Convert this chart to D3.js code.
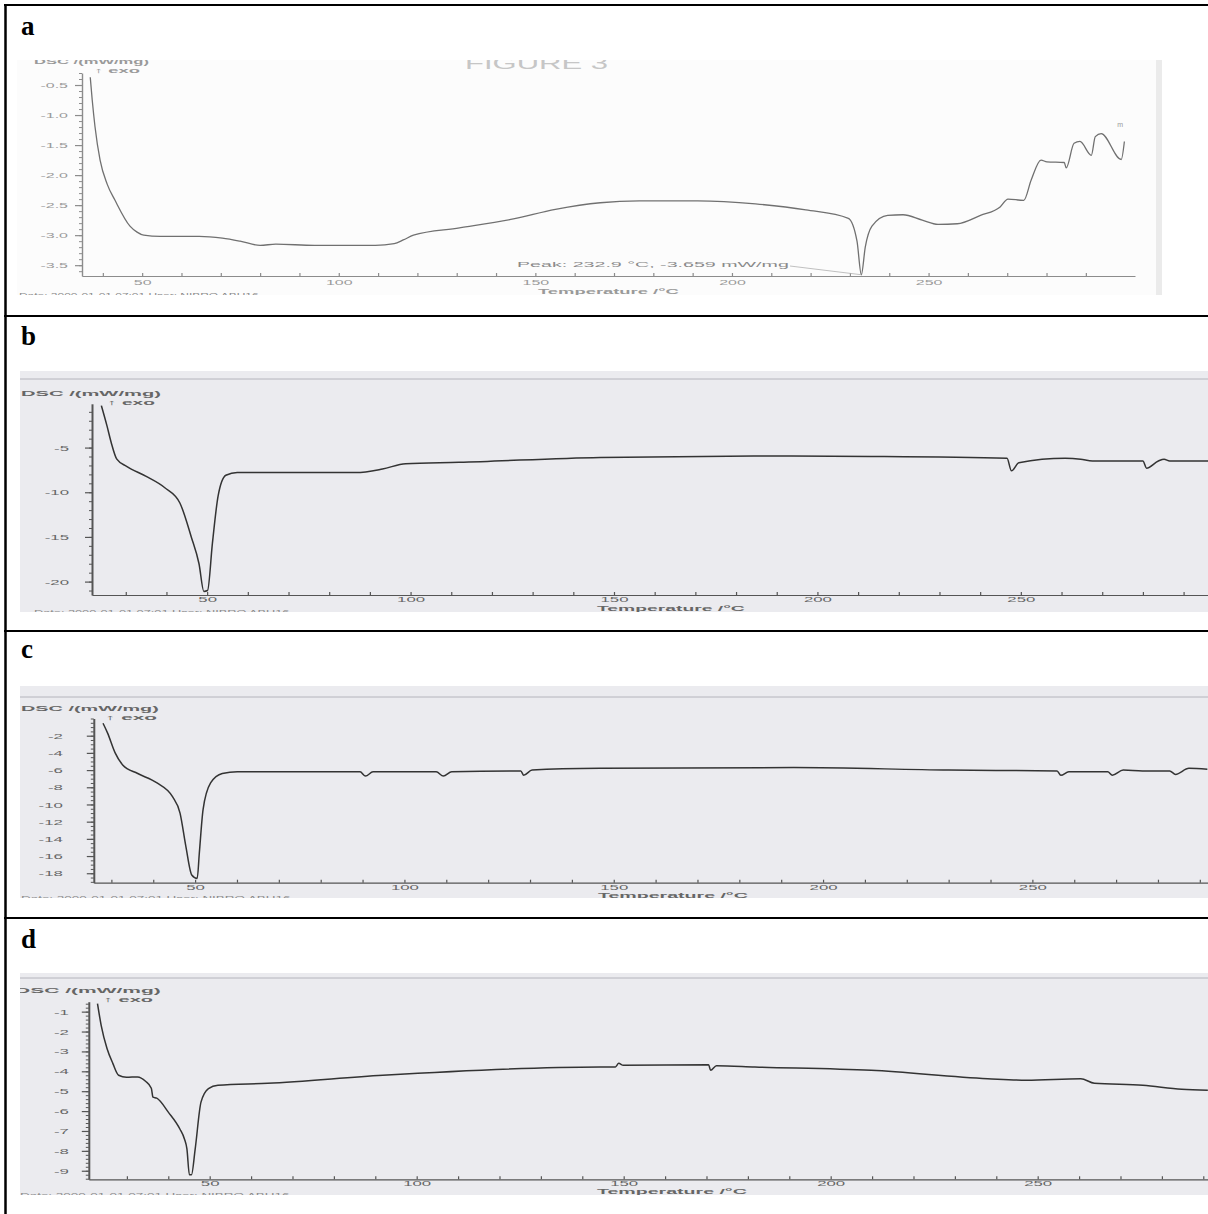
<!DOCTYPE html>
<html>
<head>
<meta charset="utf-8">
<script src="https://cdn.jsdelivr.net/npm/d3@7/dist/d3.min.js"></script>
<style>
  body { margin: 0; background: #fff; }
</style>
</head>
<body>
<div id="fig"></div>
<script>
// ---- datos (temperatura en °C, DSC en mW/mg) ----
const tempA = [36.8, 37.3, 38.0, 39.3, 41.1, 43.1, 46.9, 48.7, 50.4, 54.6, 64.5, 70.4, 74.9, 80.0, 84.0, 93.8,
  109.3, 114.1, 116.4, 119.0, 130.7, 144.4, 155.1, 166.5, 176.5, 191.2, 206.0, 218.8, 229.6, 231.8, 232.9,
  233.9, 235.6, 239.6, 243.5, 248.4, 252.4, 257.3, 263.2, 268.2, 270.2, 274.2, 276.1, 278.6, 280.1, 284.5,
  285.0, 287.0, 288.5, 291.4, 292.4, 293.9, 299.0, 299.8];
const dscA = [-0.37, -0.75, -1.19, -1.75, -2.15, -2.42, -2.85, -2.95, -3.0, -3.02, -3.02, -3.05, -3.1, -3.17, -3.15, -3.17,
  -3.17, -3.14, -3.08, -3.0, -2.88, -2.73, -2.57, -2.46, -2.43, -2.43, -2.48, -2.58, -2.72, -3.1, -3.659,
  -3.2, -2.85, -2.67, -2.66, -2.75, -2.82, -2.81, -2.67, -2.53, -2.40, -2.42, -2.08, -1.75, -1.78, -1.79,
  -1.88, -1.47, -1.44, -1.67, -1.36, -1.31, -1.74, -1.44];

const tempB = [24.0, 25.4, 26.4, 27.8, 30.2, 34.9, 39.6, 43.3, 46.1, 48.0, 49.2, 50.1, 51.3, 52.7, 54.6, 57.4,
  83.7, 86.6, 93.1, 98.8, 111.9, 146.6, 184.6, 213.2, 246.6, 247.7, 249.5, 260.9, 264.7, 267.6, 280.0,
  280.9, 283.8, 285.2, 286.6, 296.0];
const dscB = [-0.3, -2.6, -4.4, -6.3, -7.1, -8.2, -9.5, -11.2, -15.0, -18.0, -21.1, -21.0, -15.7, -10.4, -8.1, -7.8,
  -7.8, -7.8, -7.4, -6.8, -6.65, -6.1, -5.95, -6.0, -6.2, -7.6, -6.7, -6.2, -6.3, -6.5, -6.5,
  -7.3, -6.5, -6.3, -6.5, -6.5];

const tempC = [28.0, 29.1, 30.9, 32.7, 36.3, 40.9, 44.6, 46.4, 47.8, 49.2, 50.5, 51.0, 51.9, 53.7, 56.5, 60.1,
  89.4, 90.7, 92.5, 107.6, 109.3, 111.3, 127.8, 128.5, 130.5, 146.7, 193.0, 230.0, 255.9, 256.8, 258.7,
  268.0, 269.1, 271.7, 276.3, 282.8, 284.2, 287.4, 291.8];
const dscC = [-0.55, -1.7, -4.0, -5.4, -6.4, -7.5, -9.1, -11.0, -14.9, -18.2, -18.6, -15.7, -10.6, -7.5, -6.4, -6.2,
  -6.2, -6.7, -6.2, -6.2, -6.7, -6.2, -6.1, -6.6, -6.0, -5.8, -5.7, -6.0, -6.1, -6.6, -6.2,
  -6.2, -6.6, -6.0, -6.1, -6.1, -6.5, -5.8, -5.9];

const tempD = [22.9, 23.8, 25.2, 26.6, 28.0, 29.9, 32.6, 34.5, 35.9, 36.3, 37.2, 40.0, 42.8, 43.9, 44.5, 45.1,
  45.6, 46.5, 47.9, 49.7, 52.0, 64.0, 91.8, 144.3, 148.0, 148.8, 149.9, 170.5, 171.0, 172.4, 181.7,
  209.8, 237.9, 247.3, 260.4, 263.7, 275.4, 284.8, 291.1];
const dscD = [-0.6, -1.7, -2.85, -3.6, -4.2, -4.3, -4.28, -4.5, -4.85, -5.3, -5.35, -6.05, -6.9, -7.4, -7.9, -9.2,
  -9.2, -7.9, -5.55, -4.87, -4.7, -4.6, -4.2, -3.78, -3.78, -3.6, -3.7, -3.67, -3.95, -3.72, -3.78,
  -3.95, -4.37, -4.45, -4.37, -4.6, -4.7, -4.9, -4.95];

// ---- marcas de los ejes ----
const xTicks = [50, 100, 150, 200, 250];
const yTicksA = [-0.5, -1.0, -1.5, -2.0, -2.5, -3.0, -3.5];
const yTicksB = [-5, -10, -15, -20];
const yTicksC = [-2, -4, -6, -8, -10, -12, -14, -16, -18];
const yTicksD = [-1, -2, -3, -4, -5, -6, -7, -8, -9];

// ---- textos ----
const panelLetters = ['a', 'b', 'c', 'd'];
const yTitle = 'DSC /(mW/mg)';
const exoLabel = '\u2191 exo';
const xTitle = 'Temperature /\u00b0C';
const peakLabel = 'Peak: 232.9 \u00b0C, -3.659 mW/mg';
const peakPoint = [232.9, -3.659];
const stampText = 'Date: 2000-01-01 07:01    User: NIBRO ABU16';

// Configuración de cada panel (posiciones en píxeles)
const panels = [
  {
    letter: panelLetters[0], top: 5, letterY: 35, temps: tempA, vals: dscA, yTicks: yTicksA, minorY: 0.1, fmt: d => d.toFixed(1),
    scan: [17, 60, 1143, 235], bg: '#fcfcfc', topLine: null,
    xDom: [34.7, 302.5], xRange: [82, 1135], yDom: [-3.68, -0.3], yRange: [276, 73],
    lineColor: '#707070', lineW: 1.3, axisColor: '#8c8c8c', yAxisW: 1.4, textColor: '#9a9a9a',
    yGap: 14, tickSx: 2.0, xLabY: 285,
    title: [34, 64, 115], exo: [94, 73, 46], xt: [538, 294, 141], stamp: [19, 298, 240]
  },
  {
    letter: panelLetters[1], top: 316, letterY: 345, temps: tempB, vals: dscB, yTicks: yTicksB, minorY: 1, fmt: d => String(d),
    scan: [20, 371, 1188, 241], bg: '#ebebef', topLine: 379,
    xDom: [21.7, 296], xRange: [92, 1208], yDom: [-21.5, -0.1], yRange: [595, 403.8],
    lineColor: '#333', lineW: 1.5, axisColor: '#555', yAxisW: 2, textColor: '#666',
    yGap: 23, tickSx: 2.1, xLabY: 602,
    title: [21, 396, 140], exo: [107, 405, 48], xt: [597, 611, 148], stamp: [34, 615, 256]
  },
  {
    letter: panelLetters[2], top: 631, letterY: 658, temps: tempC, vals: dscC, yTicks: yTicksC, minorY: 0.5, fmt: d => String(d),
    scan: [20, 686, 1188, 212], bg: '#ebebef', topLine: 697,
    xDom: [25.8, 292], xRange: [93.8, 1208.2], yDom: [-19.1, 0], yRange: [882.7, 718.5],
    lineColor: '#333', lineW: 1.5, axisColor: '#555', yAxisW: 2, textColor: '#666',
    yGap: 31, tickSx: 2.1, xLabY: 890,
    title: [21, 711, 138], exo: [105, 720, 52], xt: [598, 898, 150], stamp: [21, 901, 270]
  },
  {
    letter: panelLetters[3], top: 918, letterY: 948, temps: tempD, vals: dscD, yTicks: yTicksD, minorY: 0.2, fmt: d => String(d),
    scan: [20, 973, 1188, 222], bg: '#ebebef', topLine: 978,
    xDom: [20.8, 291.5], xRange: [88.8, 1209.5], yDom: [-9.43, -0.5], yRange: [1179.3, 1001.7],
    lineColor: '#333', lineW: 1.5, axisColor: '#555', yAxisW: 2, textColor: '#666',
    yGap: 20, tickSx: 2.1, xLabY: 1186,
    title: [15, 993, 146], exo: [103, 1002, 50], xt: [597, 1194, 150], stamp: [20, 1198, 270]
  }
];

const W = 1208, H = 1214;
const sans = 'Liberation Sans, Arial, sans-serif';

const svg = d3.select('#fig').append('svg')
  .attr('width', W).attr('height', H)
  .style('display', 'block');

svg.append('rect').attr('width', W).attr('height', H).attr('fill', '#fff');

// Texto ensanchado (la figura escaneada está estirada en horizontal)
function wideText(g, str, x, y, size, width, color, weight) {
  const t = g.append('text')
    .attr('font-family', sans)
    .attr('font-size', size)
    .attr('font-weight', weight || 'normal')
    .attr('fill', color)
    .text(str);
  const len = t.node().getComputedTextLength();
  t.attr('transform', `translate(${x},${y}) scale(${width / len},1)`);
  return t;
}

panels.forEach((p, i) => {
  const g = svg.append('g');
  const [sx, sy, sw, sh] = p.scan;

  // Recorte de la imagen escaneada
  const clipId = 'clip' + i;
  svg.append('clipPath').attr('id', clipId)
    .append('rect').attr('x', sx).attr('y', sy).attr('width', sw).attr('height', sh);

  // Letra del panel
  g.append('text')
    .attr('x', 21).attr('y', p.letterY)
    .attr('font-family', 'Liberation Serif, Times New Roman, serif')
    .attr('font-weight', 'bold')
    .attr('font-size', 27)
    .attr('fill', '#000')
    .text(p.letter);

  const plot = g.append('g').attr('clip-path', `url(#${clipId})`);

  plot.append('rect')
    .attr('x', sx).attr('y', sy).attr('width', sw).attr('height', sh)
    .attr('fill', p.bg);

  if (p.topLine) {
    plot.append('line')
      .attr('x1', sx).attr('x2', sx + sw)
      .attr('y1', p.topLine).attr('y2', p.topLine)
      .attr('stroke', '#b4b4bc').attr('stroke-width', 1);
  }
  if (i === 0) {
    // banda vertical tenue a la derecha del escaneo
    g.append('rect').attr('x', 1156).attr('y', sy).attr('width', 6).attr('height', sh).attr('fill', '#ebebeb');
    wideText(plot, 'FIGURE 3', 465, 69, 17, 143, '#c6c6c6');
  }

  // Escalas
  const x = d3.scaleLinear().domain(p.xDom).range(p.xRange);
  const y = d3.scaleLinear().domain(p.yDom).range(p.yRange);
  const yBase = p.yRange[0];
  const xLeft = p.xRange[0];

  // Eje X: marcas menores cada 10 °C
  const minorX = d3.range(30, 300, 10).filter(t => t >= p.xDom[0] && t <= p.xDom[1]);
  const xAxisG = plot.append('g')
    .attr('transform', `translate(0,${yBase})`)
    .call(d3.axisBottom(x).tickValues(minorX).tickSize(-3).tickSizeOuter(0).tickFormat(''));
  xAxisG.select('.domain').attr('stroke', p.axisColor).attr('stroke-width', 1.2);
  xAxisG.selectAll('.tick line').attr('stroke', p.axisColor).attr('stroke-width', 1.2);

  // Etiquetas del eje X
  const xLab = plot.append('g')
    .attr('transform', `translate(0,${p.xLabY})`)
    .call(d3.axisBottom(x).tickValues(xTicks).tickSize(0).tickFormat(d => String(d)));
  xLab.select('.domain').remove();
  xLab.selectAll('text')
    .attr('y', 0).attr('dy', 0)
    .attr('font-family', sans).attr('font-size', 8).attr('fill', p.textColor)
    .attr('transform', `scale(${p.tickSx},1)`);

  // Eje Y: marcas menores
  const lo = p.yDom[0], hi = p.yDom[1];
  const minorY = d3.range(Math.ceil(lo / p.minorY), Math.floor(hi / p.minorY) + 1).map(k => +(k * p.minorY).toFixed(2));
  const yMinor = plot.append('g')
    .attr('transform', `translate(${xLeft},0)`)
    .call(d3.axisLeft(y).tickValues(minorY).tickSize(3).tickSizeOuter(0).tickFormat(''));
  yMinor.select('.domain').attr('stroke', p.axisColor).attr('stroke-width', p.yAxisW);
  yMinor.selectAll('.tick line').attr('stroke', p.axisColor).attr('stroke-width', 1);

  const yMajor = plot.append('g')
    .attr('transform', `translate(${xLeft},0)`)
    .call(d3.axisLeft(y).tickValues(p.yTicks).tickSize(7).tickFormat(p.fmt));
  yMajor.select('.domain').remove();
  yMajor.selectAll('.tick line').attr('stroke', p.axisColor).attr('stroke-width', 1.2);
  yMajor.selectAll('text')
    .attr('x', -p.yGap / p.tickSx)
    .attr('font-family', sans).attr('font-size', 8).attr('fill', p.textColor)
    .attr('transform', `scale(${p.tickSx},1)`);

  // Títulos
  wideText(plot, yTitle, p.title[0], p.title[1], 8, p.title[2], p.textColor, 'bold');
  wideText(plot, exoLabel, p.exo[0], p.exo[1], 7, p.exo[2], p.textColor, 'bold');
  wideText(plot, xTitle, p.xt[0], p.xt[1], 8, p.xt[2], p.textColor, 'bold');
  wideText(plot, stampText, p.stamp[0], p.stamp[1], 8, p.stamp[2], '#8a8a8a');

  // Curva DSC
  const pts = p.temps.map((t, k) => [t, p.vals[k]]);
  const line = d3.line()
    .x(d => x(d[0]))
    .y(d => y(d[1]))
    .curve(d3.curveMonotoneX);

  plot.append('path')
    .datum(pts)
    .attr('fill', 'none')
    .attr('stroke', p.lineColor)
    .attr('stroke-width', p.lineW)
    .attr('stroke-linejoin', 'round')
    .attr('d', line);

  if (i === 0) {
    // Anotación del pico
    wideText(plot, peakLabel, 517, 267, 8, 272, '#8a8a8a');
    plot.append('line')
      .attr('x1', 790).attr('y1', 266)
      .attr('x2', x(peakPoint[0])).attr('y2', y(peakPoint[1]))
      .attr('stroke', '#b0b0b0').attr('stroke-width', 0.8);
    plot.append('text')
      .attr('x', x(300) - 8).attr('y', y(-1.3) - 6)
      .attr('font-family', sans).attr('font-size', 7).attr('fill', '#999')
      .text('m');
  }
});

// Bordes de la tabla
const border = svg.append('g').attr('stroke', '#000');
border.append('line').attr('x1', 5.5).attr('x2', 5.5).attr('y1', 4).attr('y2', H).attr('stroke-width', 2.5);
[5, 316, 631, 918].forEach(yy => {
  border.append('line').attr('x1', 4).attr('x2', W).attr('y1', yy).attr('y2', yy).attr('stroke-width', 2);
});
</script>
</body>
</html>
